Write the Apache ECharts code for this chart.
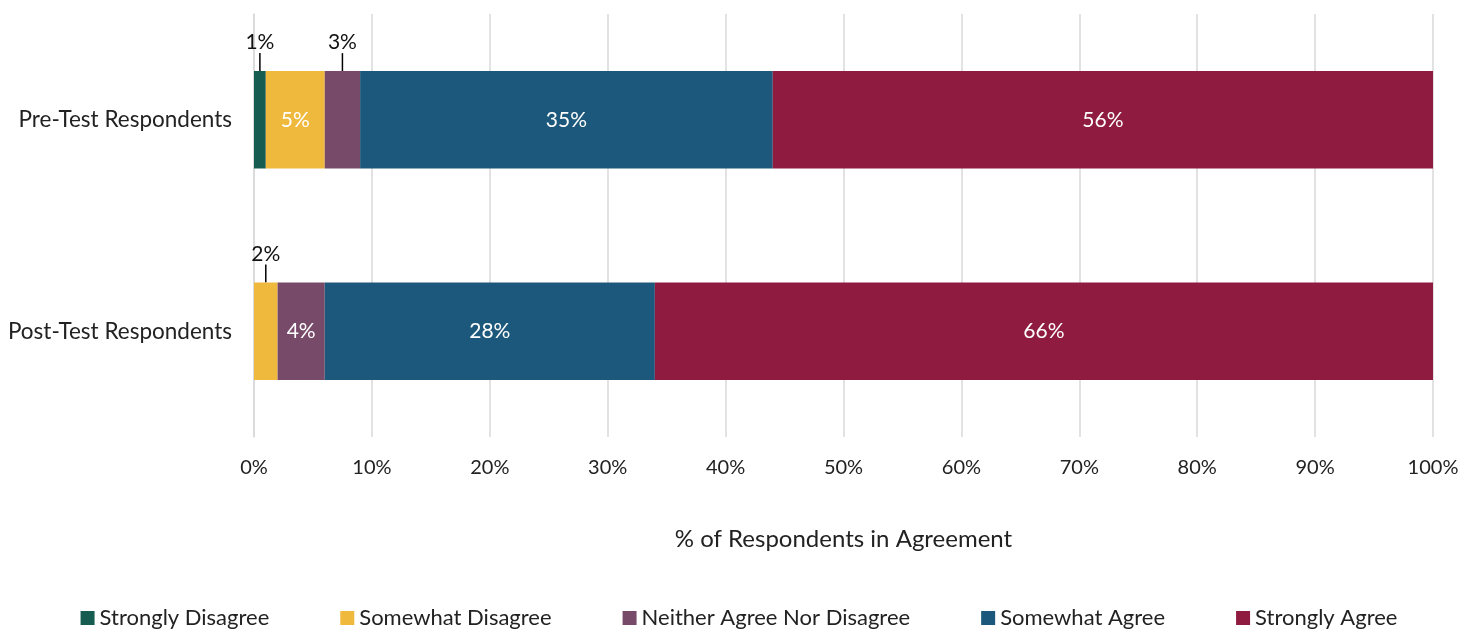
<!DOCTYPE html>
<html>
<head>
<meta charset="utf-8">
<script src="https://cdn.jsdelivr.net/npm/echarts@6/dist/echarts.min.js"></script>
<style>html,body{margin:0;padding:0;background:#fff}#c{width:1478px;height:635px}</style>
</head>
<body>
<div id="c"></div>
<script>
var categories = ['Pre-Test Respondents', 'Post-Test Respondents'];
var seriesNames = ['Strongly Disagree', 'Somewhat Disagree', 'Neither Agree Nor Disagree', 'Somewhat Agree', 'Strongly Agree'];
var stronglyDisagree = [1, 0];
var somewhatDisagree = [5, 2];
var neitherAgree = [3, 4];
var somewhatAgree = [35, 28];
var stronglyAgree = [56, 66];
var xTicks = [0, 10, 20, 30, 40, 50, 60, 70, 80, 90, 100];
var colors = ['#175c50', '#efb93d', '#784a69', '#1c587b', '#8f1b41'];
// labels shown outside (above with leader line) for narrow segments
var outsideLabels = {'0-0': true, '2-0': true, '1-1': true};

var FONT = 'Lato';
var allData = [stronglyDisagree, somewhatDisagree, neitherAgree, somewhatAgree, stronglyAgree];

var series = allData.map(function (arr, si) {
  return {
    name: seriesNames[si],
    type: 'bar',
    stack: 'total',
    barWidth: '46%',
    itemStyle: {color: colors[si]},
    labelLayout: function (p) {
      var key = si + '-' + p.dataIndex;
      if (outsideLabels[key]) return {dy: -18};
      return {};
    },
    labelLine: {show: true, lineStyle: {color: '#000', width: 1.5}, length2: 0},
    data: arr.map(function (v, di) {
      var key = si + '-' + di;
      if (v === 0) return {value: v, label: {show: false}};
      if (outsideLabels[key]) {
        return {value: v, label: {show: true, position: 'top', distance: 0, color: '#111', fontSize: 21, fontFamily: FONT, formatter: v + '%'}, labelLine: {show: true}};
      }
      return {value: v, label: {show: true, position: 'inside', color: '#fff', fontSize: 21, fontFamily: FONT, formatter: v + '%'}, labelLine: {show: false}};
    })
  };
});

var chart = echarts.init(document.getElementById('c'), null, {renderer: 'canvas'});
chart.setOption({
  animation: false,
  grid: {left: 254, right: 45, top: 14, bottom: 198},
  xAxis: {
    type: 'value', min: 0, max: 100, interval: 10,
    axisLabel: {formatter: function (v) { return v + '%'; }, color: '#222', fontSize: 20, fontFamily: FONT, margin: 21},
    splitLine: {show: true, lineStyle: {color: '#d9d9d9', width: 1.5}},
    axisLine: {show: false}, axisTick: {show: false},
    name: '% of Respondents in Agreement', nameLocation: 'middle', nameGap: 90,
    nameTextStyle: {color: '#222', fontSize: 24, fontFamily: FONT}
  },
  yAxis: {
    type: 'category', data: categories, inverse: true,
    axisLine: {show: true, lineStyle: {color: '#d9d9d9', width: 1.5}},
    axisTick: {show: false},
    axisLabel: {color: '#222', fontSize: 22.5, fontFamily: FONT, margin: 22}
  },
  legend: {
    bottom: 1, left: 'center', itemWidth: 14, itemHeight: 14, itemGap: 71,
    icon: 'rect',
    textStyle: {color: '#222', fontSize: 22, fontFamily: FONT},
    data: seriesNames
  },
  series: series
});
</script>
</body>
</html>
